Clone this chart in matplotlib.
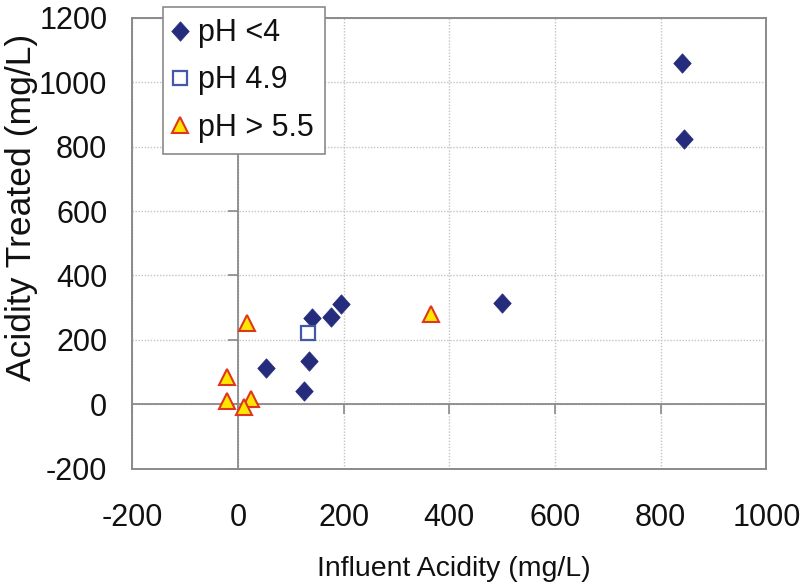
import matplotlib
matplotlib.use("Agg")
import matplotlib.pyplot as plt

plt.rcParams['font.family'] = ['Liberation Sans', 'DejaVu Sans']
plt.rcParams['axes.unicode_minus'] = False

# ---- data ----
ph_lt4_x = [53, 125, 135, 141, 176, 195, 499, 840, 844]
ph_lt4_y = [112, 42, 134, 269, 272, 311, 315, 1061, 823]
ph_49_x = [133]
ph_49_y = [220]
ph_gt55_x = [-21, -21, 18, 25, 12, 365]
ph_gt55_y = [84, 9, 251, 16, -7, 280]

series_labels = ["pH <4", "pH 4.9", "pH > 5.5"]
x_ticks = [-200, 0, 200, 400, 600, 800, 1000]
y_ticks = [-200, 0, 200, 400, 600, 800, 1000, 1200]
x_label = "Influent Acidity (mg/L)"
y_label = "Acidity Treated (mg/L)"

# ---- style ----
W, H = 800, 587
fig = plt.figure(figsize=(W / 100, H / 100), dpi=100)
left, right, top, bottom = 132.3, 766.4, 17.9, 468.7
ax = fig.add_axes([left / W, 1 - bottom / H, (right - left) / W, (bottom - top) / H])

box_col = '#8a8a8a'
grid_col = '#c4c4c4'
txt_col = '#111111'

ax.set_xlim(x_ticks[0], x_ticks[-1])
ax.set_ylim(y_ticks[0], y_ticks[-1])
ax.set_xticks(x_ticks)
ax.set_yticks(y_ticks)
ax.tick_params(axis='both', length=0, labelsize=22, colors=txt_col)
ax.tick_params(axis='x', pad=25)
ax.tick_params(axis='y', pad=18)
ax.grid(True, linestyle=(0, (1, 1.2)), color=grid_col, linewidth=1.0)
ax.set_axisbelow(True)
for s in ax.spines.values():
    s.set_color(box_col)
    s.set_linewidth(1.4)

# zero axes with outward ticks
secx = ax.secondary_xaxis(0, transform=ax.transData)
secx.set_xticks(x_ticks)
secx.tick_params(direction='out', length=7, width=1.2, color=box_col, labelbottom=False)
secx.spines['bottom'].set_color(box_col)
secx.spines['bottom'].set_linewidth(1.3)
secx.set_zorder(0.5)

secy = ax.secondary_yaxis(0, transform=ax.transData)
secy.set_yticks(y_ticks)
secy.tick_params(direction='out', length=7, width=1.2, color=box_col, labelleft=False)
secy.spines['left'].set_color(box_col)
secy.spines['left'].set_linewidth(1.3)
secy.set_zorder(0.5)

diamond = [(0, 1), (0.9, 0), (0, -1), (-0.9, 0), (0, 1)]
ax.plot(ph_lt4_x, ph_lt4_y, linestyle='none', marker=diamond, markersize=14,
        markerfacecolor='#252C7C', markeredgecolor='#252C7C', markeredgewidth=0.5,
        label=series_labels[0], zorder=3)
ax.plot(ph_49_x, ph_49_y, linestyle='none', marker='s', markersize=9.5,
        markerfacecolor='white', markeredgecolor='#4458A8', markeredgewidth=1.6,
        label=series_labels[1], zorder=3)
ax.plot(ph_gt55_x, ph_gt55_y, linestyle='none', marker='^', markersize=11.5,
        markerfacecolor='#FFE600', markeredgecolor='#E0361E', markeredgewidth=1.5,
        label=series_labels[2], zorder=3)

ax.set_xlabel(x_label, fontsize=20.5, color=txt_col, va='center')
ax.xaxis.set_label_coords((454 - left) / (right - left), (bottom - 569) / (bottom - top))
ax.set_ylabel(y_label, fontsize=25.5, color=txt_col, va='center', ha='center')
ax.yaxis.set_label_coords((22 - left) / (right - left), (bottom - 207) / (bottom - top))

leg = ax.legend(loc='upper left', bbox_to_anchor=(163.3 / W, 1 - 6.7 / H),
                bbox_transform=fig.transFigure, borderaxespad=0, fontsize=22,
                frameon=True, fancybox=False, framealpha=1, edgecolor=box_col,
                handlelength=0.35, handletextpad=0.4, labelspacing=0.56,
                borderpad=0.38)
leg.get_frame().set_linewidth(1.2)
leg.set_zorder(10)
for t in leg.get_texts():
    t.set_color(txt_col)

fig.savefig("out.png", dpi=100, facecolor='white')
